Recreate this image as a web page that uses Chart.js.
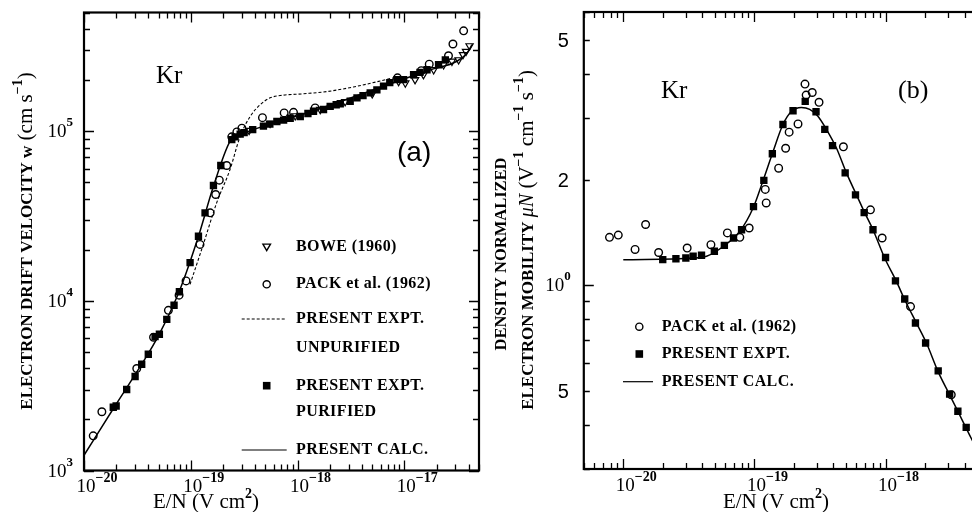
<!DOCTYPE html>
<html>
<head>
<meta charset="utf-8">
<script src="https://cdn.jsdelivr.net/npm/chart.js@4/dist/chart.umd.min.js"></script>
<style>
  html, body { margin: 0; padding: 0; background: #fff; overflow: hidden; width: 972px; height: 512px; }
  #wrapA { position: absolute; left: 0; top: 0; width: 490px; height: 512px; }
  #wrapB { position: absolute; left: 486px; top: 0; width: 560px; height: 512px; }
</style>
</head>
<body>
<div id="wrapA"><canvas id="chartA" width="490" height="512"></canvas></div>
<div id="wrapB"><canvas id="chartB" width="560" height="512"></canvas></div>
<script>
// ---- panel (a) : drift velocity w vs E/N ----
const calcA_x = [1.0e-20, 1.95e-20, 3.47e-20, 4.97e-20, 7.94e-20, 1.18e-19, 1.63e-19, 2.33e-19, 2.70e-19, 3.47e-19, 6.87e-19, 1.88e-18, 8.53e-18, 1.75e-17, 3.11e-17, 3.86e-17, 4.30e-17];
const calcA_y = [1230, 2400, 4230, 6210, 1.17e4, 2.40e4, 4.73e4, 8.71e4, 9.3e4, 9.97e4, 1.14e5, 1.40e5, 1.96e5, 2.30e5, 2.58e5, 2.88e5, 3.23e5];

const unpurA_x = [9.84e-20, 1.31e-19, 1.75e-19, 2.33e-19, 2.90e-19, 3.60e-19, 4.46e-19, 5.53e-19, 6.87e-19, 1.14e-18, 1.88e-18, 3.34e-18, 7.93e-18];
const unpurA_y = [1.25e4, 2.15e4, 3.79e4, 5.94e4, 9.31e4, 1.22e5, 1.43e5, 1.57e5, 1.62e5, 1.66e5, 1.71e5, 1.82e5, 2.06e5];

const purA_x = [1.88e-20, 2.0e-20, 2.51e-20, 3.01e-20, 3.47e-20, 4.0e-20, 4.63e-20, 5.08e-20, 5.96e-20, 6.97e-20, 7.82e-20, 9.85e-20, 1.18e-19, 1.36e-19, 1.63e-19, 1.91e-19, 2.42e-19, 2.60e-19, 2.9e-19, 3.16e-19, 3.8e-19, 4.79e-19, 5.5e-19, 6.40e-19, 7.4e-19, 8.53e-19, 1.06e-18, 1.25e-18, 1.41e-18, 1.75e-18, 2.02e-18, 2.3e-18, 2.51e-18, 3.11e-18, 3.60e-18, 4.1e-18, 4.79e-18, 5.53e-18, 6.38e-18, 7.3e-18, 8.53e-18, 9.84e-18, 1.22e-17, 1.4e-17, 1.63e-17, 2.09e-17, 2.42e-17];
const purA_y = [2360, 2400, 3000, 3580, 4230, 4840, 6150, 6350, 7780, 9410, 1.13e4, 1.68e4, 2.40e4, 3.30e4, 4.78e4, 6.27e4, 8.91e4, 9.25e4, 9.6e4, 9.8e4, 1.02e5, 1.07e5, 1.10e5, 1.14e5, 1.16e5, 1.19e5, 1.22e5, 1.27e5, 1.31e5, 1.34e5, 1.40e5, 1.43e5, 1.45e5, 1.50e5, 1.57e5, 1.62e5, 1.68e5, 1.75e5, 1.84e5, 1.93e5, 2.01e5, 2.01e5, 2.15e5, 2.22e5, 2.30e5, 2.46e5, 2.63e5];

const packA_x = [1.22e-20, 1.47e-20, 3.12e-20, 4.48e-20, 6.17e-20, 7.77e-20, 9.03e-20, 1.22e-19, 1.52e-19, 1.71e-19, 1.85e-19, 2.17e-19, 2.42e-19, 2.70e-19, 3.01e-19, 4.69e-19, 7.49e-19, 9.16e-19, 1.46e-18, 8.63e-18, 1.44e-17, 1.71e-17, 2.59e-17, 2.85e-17, 3.59e-17];
const packA_y = [1600, 2220, 3990, 6100, 8790, 1.08e4, 1.31e4, 2.15e4, 3.30e4, 4.23e4, 5.14e4, 6.27e4, 9.25e4, 9.89e4, 1.04e5, 1.20e5, 1.28e5, 1.29e5, 1.37e5, 2.06e5, 2.27e5, 2.48e5, 2.78e5, 3.26e5, 3.90e5];

const boweA_x = [3.52e-19, 5.53e-19, 9.5e-19, 1.63e-18, 2.79e-18, 5.0e-18, 8.83e-18, 1.02e-17, 1.26e-17, 1.51e-17, 1.88e-17, 2.33e-17, 2.79e-17, 3.22e-17, 3.54e-17, 3.78e-17, 4.08e-17];
const boweA_y = [1.01e5, 1.11e5, 1.23e5, 1.34e5, 1.49e5, 1.66e5, 1.96e5, 1.92e5, 2.01e5, 2.15e5, 2.30e5, 2.46e5, 2.58e5, 2.63e5, 2.82e5, 2.95e5, 3.18e5];

// ---- panel (b) : density normalized mobility muN vs E/N ----
const calcB_x = [1e-20, 3.41e-20, 4.32e-20, 5.78e-20, 7.74e-20, 9.77e-20, 1.16e-19, 1.39e-19, 1.65e-19, 1.92e-19, 2.28e-19, 2.64e-19, 3.05e-19, 3.54e-19, 4.22e-19, 5.03e-19, 6.0e-19, 6.93e-19, 8.02e-19, 9.84e-19, 1.21e-18, 1.40e-18, 1.72e-18, 2.05e-18, 2.51e-18, 3.08e-18, 3.56e-18, 4.12e-18, 4.50e-18, 5.5e-18];
const calcB_y = [1.183, 1.196, 1.21, 1.29, 1.425, 1.66, 1.98, 2.41, 2.87, 3.13, 3.21, 3.17, 3.03, 2.78, 2.46, 2.09, 1.81, 1.61, 1.44, 1.196, 1.026, 0.910, 0.781, 0.685, 0.569, 0.488, 0.438, 0.392, 0.367, 0.316];

const exptB_x = [2.0e-20, 2.52e-20, 3.0e-20, 3.41e-20, 3.95e-20, 4.95e-20, 5.90e-20, 6.93e-20, 7.98e-20, 9.84e-20, 1.18e-19, 1.37e-19, 1.65e-19, 1.97e-19, 2.44e-19, 2.95e-19, 3.44e-19, 3.94e-19, 4.92e-19, 5.90e-19, 6.87e-19, 8.02e-19, 1.0e-18, 1.19e-18, 1.40e-18, 1.69e-18, 2.02e-18, 2.52e-18, 3.08e-18, 3.56e-18, 4.12e-18];
const exptB_y = [1.183, 1.19, 1.196, 1.21, 1.218, 1.25, 1.30, 1.364, 1.44, 1.675, 1.99, 2.37, 2.87, 3.14, 3.34, 3.12, 2.78, 2.50, 2.09, 1.81, 1.61, 1.44, 1.20, 1.03, 0.914, 0.781, 0.685, 0.571, 0.49, 0.438, 0.394];

const packB_x = [7.85e-21, 9.16e-21, 1.23e-20, 1.48e-20, 1.86e-20, 3.07e-20, 4.66e-20, 6.22e-20, 7.74e-20, 9.12e-20, 1.21e-19, 1.23e-19, 1.53e-19, 1.73e-19, 1.84e-19, 2.15e-19, 2.43e-19, 2.48e-19, 2.76e-19, 3.11e-19, 4.77e-19, 7.67e-19, 9.42e-19, 1.55e-18, 3.17e-18];
const packB_y = [1.37, 1.39, 1.265, 1.49, 1.24, 1.277, 1.305, 1.41, 1.37, 1.456, 1.875, 1.716, 2.155, 2.456, 2.73, 2.88, 3.74, 3.48, 3.54, 3.32, 2.48, 1.64, 1.364, 0.870, 0.488];

// axis ranges and labelled ticks
const xRangeA = [1e-20, 5e-17], yRangeA = [1e3, 5e5];
const xRangeB = [5e-21, 1e-17], yRangeB = [0.3, 6];
const xLabelExpA = [-20, -19, -18, -17], yLabelExpA = [3, 4, 5];
const xLabelExpB = [-20, -19, -18, -17];
const yLabelsB = [[5, '5'], [2, '2'], [1, 'pow0'], [0.5, '5']];

const SERIF = '"Liberation Serif","DejaVu Serif",serif';
const SANS = '"Liberation Sans","DejaVu Sans",sans-serif';
const font = (size, weight = 'normal', style = 'normal', fam = SERIF) => `${style} ${weight} ${size}px ${fam}`;

const pts = (xs, ys) => xs.map((x, i) => ({ x, y: ys[i] }));

function drawRuns(ctx, x, y, runs, align) {
  let w = 0;
  runs.forEach(r => { ctx.font = r.font; r.w = ctx.measureText(r.text).width; w += r.w; });
  let cx = align === 'center' ? x - w / 2 : align === 'right' ? x - w : x;
  ctx.textAlign = 'left';
  ctx.textBaseline = 'alphabetic';
  runs.forEach(r => { ctx.font = r.font; ctx.fillText(r.text, cx, y + (r.dy || 0)); cx += r.w; });
  return w;
}

function logTicks(min, max) {
  const out = [];
  const e0 = Math.floor(Math.log10(min) + 1e-9), e1 = Math.ceil(Math.log10(max) - 1e-9);
  for (let e = e0; e <= e1; e++) {
    for (let k = 1; k <= 9; k++) {
      const v = k * Math.pow(10, e);
      if (v >= min * 0.999 && v <= max * 1.001) out.push({ v, major: k === 1 });
    }
  }
  return out;
}

// frame with inward ticks on all four sides + custom text
function makeFrame(xr, yr, decorate) {
  return {
    id: 'frame',
    afterDraw(chart) {
      const { ctx, chartArea: a, scales } = chart;
      ctx.save();
      ctx.strokeStyle = '#000';
      ctx.fillStyle = '#000';
      ctx.lineWidth = 1.3;
      ctx.beginPath();
      logTicks(xr[0], xr[1]).forEach(t => {
        const p = Math.round(scales.x.getPixelForValue(t.v)) + 0.5, len = t.major ? 10 : 6;
        ctx.moveTo(p, a.bottom); ctx.lineTo(p, a.bottom - len);
        ctx.moveTo(p, a.top); ctx.lineTo(p, a.top + len);
      });
      logTicks(yr[0], yr[1]).forEach(t => {
        const p = Math.round(scales.y.getPixelForValue(t.v)) + 0.5, len = t.major ? 10 : 6;
        ctx.moveTo(a.left, p); ctx.lineTo(a.left + len, p);
        ctx.moveTo(a.right, p); ctx.lineTo(a.right - len, p);
      });
      ctx.stroke();
      ctx.lineWidth = 2.2;
      ctx.strokeRect(a.left, a.top, a.right - a.left, a.bottom - a.top);
      decorate(ctx, chart);
      ctx.restore();
    }
  };
}

function xPowLabels(ctx, chart, exps, base) {
  const { chartArea: a, scales } = chart;
  exps.forEach(e => {
    const px = scales.x.getPixelForValue(Math.pow(10, e)) + 2;
    ctx.font = font(19);
    const w10 = ctx.measureText('10').width;
    ctx.textAlign = 'center';
    ctx.fillText('10', px, a.bottom + base);
    drawRuns(ctx, px + w10 / 2, a.bottom + base - 10, [{ text: '\u2212' + Math.abs(e), font: font(14, 'bold') }], 'left');
  });
}

function legendSymbol(ctx, kind, x, y) {
  ctx.save();
  ctx.lineWidth = 1.4;
  ctx.beginPath();
  if (kind === 'circle') { ctx.arc(x, y, 3.6, 0, Math.PI * 2); ctx.stroke(); }
  else if (kind === 'square') { ctx.fillRect(x - 3.8, y - 3.8, 7.6, 7.6); }
  else if (kind === 'tri') { ctx.moveTo(x - 3.8, y - 2.6); ctx.lineTo(x + 3.8, y - 2.6); ctx.lineTo(x, y + 4); ctx.closePath(); ctx.stroke(); }
  ctx.restore();
}
function legendLine(ctx, x1, x2, y, dash) {
  ctx.save();
  ctx.lineWidth = 1.2;
  ctx.setLineDash(dash || []);
  ctx.beginPath(); ctx.moveTo(x1, y); ctx.lineTo(x2, y); ctx.stroke();
  ctx.restore();
}
function legendText(ctx, text, x, y) {
  ctx.font = font(16, 'bold');
  ctx.letterSpacing = '0.4px';
  ctx.textAlign = 'left';
  ctx.textBaseline = 'middle';
  ctx.fillText(text, x, y);
  ctx.textBaseline = 'alphabetic';
  ctx.letterSpacing = '0px';
}

function decorateA(ctx, chart) {
  const { chartArea: a, scales } = chart;
  xPowLabels(ctx, chart, xLabelExpA, 21);
  yLabelExpA.forEach(e => {
    const py = scales.y.getPixelForValue(Math.pow(10, e));
    drawRuns(ctx, a.left - 11, py + 6, [{ text: '10', font: font(19) }, { text: String(e), font: font(13, 'bold'), dy: -11 }], 'right');
  });
  // axis titles
  drawRuns(ctx, 206, 508, [{ text: 'E/N (V cm', font: font(21) }, { text: '2', font: font(14, 'bold'), dy: -10 }, { text: ')', font: font(21) }], 'center');
  ctx.save();
  ctx.translate(32, 241);
  ctx.rotate(-Math.PI / 2);
  drawRuns(ctx, 0, 0, [
    { text: 'ELECTRON DRIFT VELOCITY ', font: font(17, 'bold') },
    { text: 'w', font: font(17, 'bold') },
    { text: ' (cm s', font: font(21) },
    { text: '\u22121', font: font(14, 'bold'), dy: -10 },
    { text: ')', font: font(21) }], 'center');
  ctx.restore();
  // annotations
  ctx.font = font(25);
  ctx.textAlign = 'left';
  ctx.fillText('Kr', 156, 83);
  ctx.font = font(28, 'normal', 'normal', SANS);
  ctx.fillText('(a)', 397, 161);
  // legend
  const sx = 266.7, tx = 296;
  legendSymbol(ctx, 'tri', sx, 246.7); legendText(ctx, 'BOWE (1960)', tx, 246.7);
  legendSymbol(ctx, 'circle', sx, 284.3); legendText(ctx, 'PACK et al. (1962)', tx, 284.3);
  legendLine(ctx, 241.7, 286.7, 319, [3, 2]); legendText(ctx, 'PRESENT EXPT.', tx, 319);
  legendText(ctx, 'UNPURIFIED', tx, 348.3);
  legendSymbol(ctx, 'square', sx, 385.7); legendText(ctx, 'PRESENT EXPT.', tx, 385.7);
  legendText(ctx, 'PURIFIED', tx, 412.3);
  legendLine(ctx, 241.7, 286.7, 450); legendText(ctx, 'PRESENT CALC.', tx, 450);
}

function decorateB(ctx, chart) {
  const { chartArea: a, scales } = chart;
  xPowLabels(ctx, chart, xLabelExpB, 22);
  yLabelsB.forEach(([v, t]) => {
    const py = scales.y.getPixelForValue(v);
    if (t === 'pow0') {
      drawRuns(ctx, a.left - 13, py + 6, [{ text: '10', font: font(19) }, { text: '0', font: font(13, 'bold'), dy: -11 }], 'right');
    } else {
      drawRuns(ctx, a.left - 15, py + 7, [{ text: t, font: font(20, 'normal', 'normal', SANS) }], 'right');
    }
  });
  drawRuns(ctx, 290, 508, [{ text: 'E/N (V cm', font: font(21) }, { text: '2', font: font(14, 'bold'), dy: -10 }, { text: ')', font: font(21) }], 'center');
  ctx.save();
  ctx.translate(20, 254);
  ctx.rotate(-Math.PI / 2);
  drawRuns(ctx, 0, 0, [{ text: 'DENSITY NORMALIZED', font: font(16.5, 'bold') }], 'center');
  ctx.restore();
  ctx.save();
  ctx.translate(47, 240);
  ctx.rotate(-Math.PI / 2);
  drawRuns(ctx, 0, 0, [
    { text: 'ELECTRON MOBILITY ', font: font(17, 'bold') },
    { text: '\u03bcN', font: font(20, 'normal', 'italic') },
    { text: ' (V', font: font(21) }, { text: '\u22121', font: font(14, 'bold'), dy: -10 },
    { text: ' cm', font: font(21) }, { text: '\u22121', font: font(14, 'bold'), dy: -10 },
    { text: ' s', font: font(21) }, { text: '\u22121', font: font(14, 'bold'), dy: -10 },
    { text: ')', font: font(21) }], 'center');
  ctx.restore();
  ctx.font = font(25);
  ctx.textAlign = 'left';
  ctx.fillText('Kr', 175, 98);
  ctx.font = font(26);
  ctx.fillText('(b)', 412, 98);
  const sx = 153.3, tx = 175.7;
  legendSymbol(ctx, 'circle', sx, 326.7); legendText(ctx, 'PACK et al. (1962)', tx, 326.7);
  legendSymbol(ctx, 'square', sx, 354); legendText(ctx, 'PRESENT EXPT.', tx, 354);
  legendLine(ctx, 137, 167, 381.7); legendText(ctx, 'PRESENT CALC.', tx, 381.7);
}

const lineDs = (data, dash) => ({
  data, showLine: true, pointRadius: 0, borderColor: '#000', borderWidth: dash ? 1.1 : 1.5,
  borderDash: dash || [], cubicInterpolationMode: 'monotone', fill: false, order: 5
});
const circleDs = data => ({
  data, showLine: false, pointStyle: 'circle', pointRadius: 3.8, pointBorderWidth: 1.4,
  pointBackgroundColor: 'rgba(255,255,255,0)', pointBorderColor: '#000', order: 2
});
const squareDs = data => ({
  data, showLine: false, pointStyle: 'rect', pointRadius: 5.2, pointBorderWidth: 0,
  pointBackgroundColor: '#000', pointBorderColor: '#000', order: 1
});
const triDs = data => ({
  data, showLine: false, pointStyle: 'triangle', pointRotation: 180, pointRadius: 4.2, pointBorderWidth: 1.2,
  pointBackgroundColor: 'rgba(255,255,255,0)', pointBorderColor: '#000', order: 3
});

function baseOptions(xr, yr, padding) {
  return {
    responsive: false, animation: false, devicePixelRatio: 1,
    layout: { padding },
    plugins: { legend: { display: false }, tooltip: { enabled: false } },
    scales: {
      x: { type: 'logarithmic', min: xr[0], max: xr[1], display: false },
      y: { type: 'logarithmic', min: yr[0], max: yr[1], display: false }
    }
  };
}

new Chart(document.getElementById('chartA'), {
  type: 'scatter',
  data: {
    datasets: [
      lineDs(pts(calcA_x, calcA_y)),
      lineDs(pts(unpurA_x, unpurA_y), [3, 2]),
      squareDs(pts(purA_x, purA_y)),
      circleDs(pts(packA_x, packA_y)),
      triDs(pts(boweA_x, boweA_y))
    ]
  },
  options: baseOptions(xRangeA, yRangeA, { left: 84, right: 11, top: 12.5, bottom: 41.5 }),
  plugins: [makeFrame(xRangeA, yRangeA, decorateA)]
});

new Chart(document.getElementById('chartB'), {
  type: 'scatter',
  data: {
    datasets: [
      lineDs(pts(calcB_x, calcB_y)),
      squareDs(pts(exptB_x, exptB_y)),
      circleDs(pts(packB_x, packB_y))
    ]
  },
  options: baseOptions(xRangeB, yRangeB, { left: 97.8, right: 29.3, top: 12, bottom: 43 }),
  plugins: [makeFrame(xRangeB, yRangeB, decorateB)]
});
</script>
</body>
</html>
